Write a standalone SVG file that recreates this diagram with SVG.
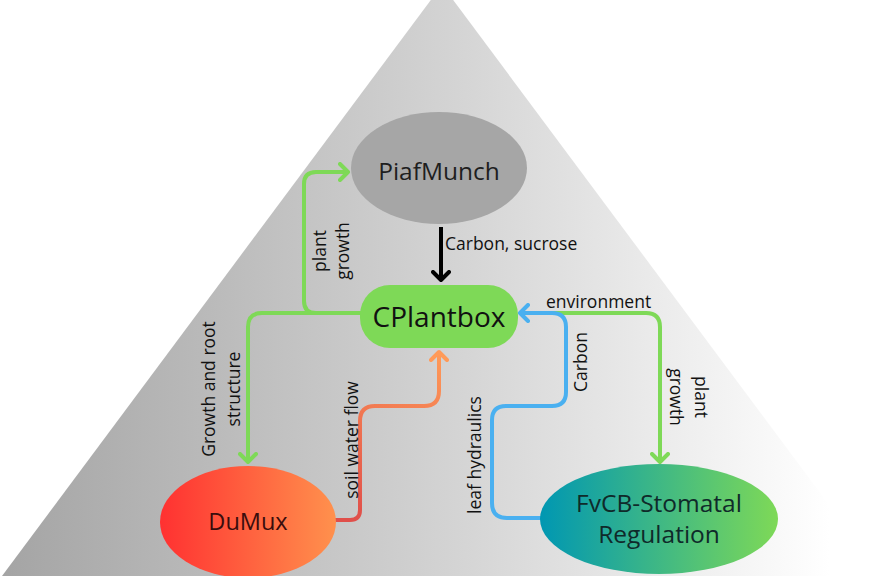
<svg xmlns="http://www.w3.org/2000/svg" width="885" height="576" viewBox="0 0 885 576">
<defs>
<linearGradient id="bg" x1="0" y1="0" x2="830" y2="0" gradientUnits="userSpaceOnUse">
<stop offset="0" stop-color="#a4a4a4"/>
<stop offset="0.55" stop-color="#d4d4d4"/>
<stop offset="1" stop-color="#ffffff"/>
</linearGradient>
<linearGradient id="gDu" x1="0" y1="0" x2="1" y2="0">
<stop offset="0" stop-color="#ff3131"/>
<stop offset="1" stop-color="#ff914d"/>
</linearGradient>
<linearGradient id="gFv" x1="0" y1="0" x2="1" y2="0">
<stop offset="0" stop-color="#0097b2"/>
<stop offset="1" stop-color="#7ed957"/>
</linearGradient>
<linearGradient id="gRed" x1="360" y1="520" x2="439" y2="352" gradientUnits="userSpaceOnUse">
<stop offset="0" stop-color="#e04f4a"/>
<stop offset="1" stop-color="#ff9a58"/>
</linearGradient>
<marker id="aG" viewBox="-10 -10 20 20" markerWidth="20" markerHeight="20" refX="0" refY="0" orient="auto" markerUnits="userSpaceOnUse"><path d="M-8,-8 L0,0 L-8,8" class="ah" stroke="#7ed957"/></marker>
<marker id="aK" viewBox="-10 -10 20 20" markerWidth="20" markerHeight="20" refX="0" refY="0" orient="auto" markerUnits="userSpaceOnUse"><path d="M-8,-8 L0,0 L-8,8" class="ah" stroke="#000000"/></marker>
<marker id="aB" viewBox="-10 -10 20 20" markerWidth="20" markerHeight="20" refX="0" refY="0" orient="auto" markerUnits="userSpaceOnUse"><path d="M-8,-8 L0,0 L-8,8" class="ah" stroke="#4ab0f0"/></marker>
<marker id="aO" viewBox="-10 -10 20 20" markerWidth="20" markerHeight="20" refX="0" refY="0" orient="auto" markerUnits="userSpaceOnUse"><path d="M-8,-8 L0,0 L-8,8" class="ah" stroke="#ff9a58"/></marker>
</defs>
<style>
.ah{fill:none;stroke-width:4;stroke-linecap:round;stroke-linejoin:round}
.ln{fill:none;stroke-width:4;stroke-linejoin:round}
.node{font-family:"Open Sans","Liberation Sans",sans-serif;text-anchor:middle}
.lbl{font-family:"Open Sans","Liberation Sans",sans-serif;font-size:17.5px;fill:#111}
.mid{text-anchor:middle}
</style>
<polygon points="442,-15 2,576 882,576" fill="url(#bg)"/>
<g id="connectors">
<path class="ln" d="M441,227 V280" stroke="#000" marker-end="url(#aK)"/>
<path class="ln" d="M362,313 H316 Q304,313 304,301 V184 Q304,172 316,172 H348" stroke="#7ed957" marker-end="url(#aG)"/>
<path class="ln" d="M362,313 H262 Q248,313 248,327 V462" stroke="#7ed957" marker-end="url(#aG)"/>
<path class="ln" d="M522,313 H646 Q660,313 660,327 V462" stroke="#7ed957" marker-end="url(#aG)"/>
<path class="ln" d="M545,518 H507 Q492,518 492,503 V420 Q492,406 506,406 H552 Q566,406 566,392 V327 Q566,313 552,313 H520" stroke="#4ab0f0" stroke-width="4.5" marker-end="url(#aB)"/>
<path class="ln" d="M334,520 H350 Q360,520 360,510 V421 Q360,406 375,406 H424 Q439,406 439,391 V352" stroke="url(#gRed)" stroke-width="4.5" marker-end="url(#aO)"/>
<text class="lbl" x="445" y="250">Carbon, sucrose</text>
<text class="lbl" x="546" y="308">environment</text>
<text class="lbl mid" transform="translate(326,251) rotate(-90)"><tspan x="0" y="0">plant</tspan><tspan x="0" y="23">growth</tspan></text>
<text class="lbl mid" transform="translate(215,389) rotate(-90)"><tspan x="0" y="0">Growth and root</tspan><tspan x="0" y="25">structure</tspan></text>
<text class="lbl mid" transform="translate(358,440) rotate(-90)">soil water flow</text>
<text class="lbl mid" transform="translate(481,455) rotate(-90)">leaf hydraulics</text>
<text class="lbl mid" transform="translate(587,362) rotate(-90)">Carbon</text>
<text class="lbl mid" transform="translate(695,397) rotate(90)"><tspan x="0" y="0">plant</tspan><tspan x="0" y="25">growth</tspan></text>
</g>
<g id="piafmunch">
<ellipse cx="439" cy="168" rx="88" ry="56" fill="#a6a6a6"/>
<text class="node" x="439" y="180" font-size="24.5" fill="#1e1e1e">PiafMunch</text>
</g>
<g id="cplantbox">
<rect x="360" y="285" width="158" height="63" rx="30" fill="#7ed957"/>
<text class="node" x="439" y="327" font-size="28" fill="#111">CPlantbox</text>
</g>
<g id="dumux">
<ellipse cx="248" cy="522" rx="88" ry="56" fill="url(#gDu)"/>
<text class="node" x="248" y="530" font-size="23.5" fill="#3a0d0d">DuMux</text>
</g>
<g id="fvcb">
<ellipse cx="659" cy="519" rx="119" ry="55" fill="url(#gFv)"/>
<text class="node" x="659" y="512" font-size="24.5" fill="#0f2a2a"><tspan x="659" y="512">FvCB-Stomatal</tspan><tspan x="659" y="543">Regulation</tspan></text>
</g>
</svg>
